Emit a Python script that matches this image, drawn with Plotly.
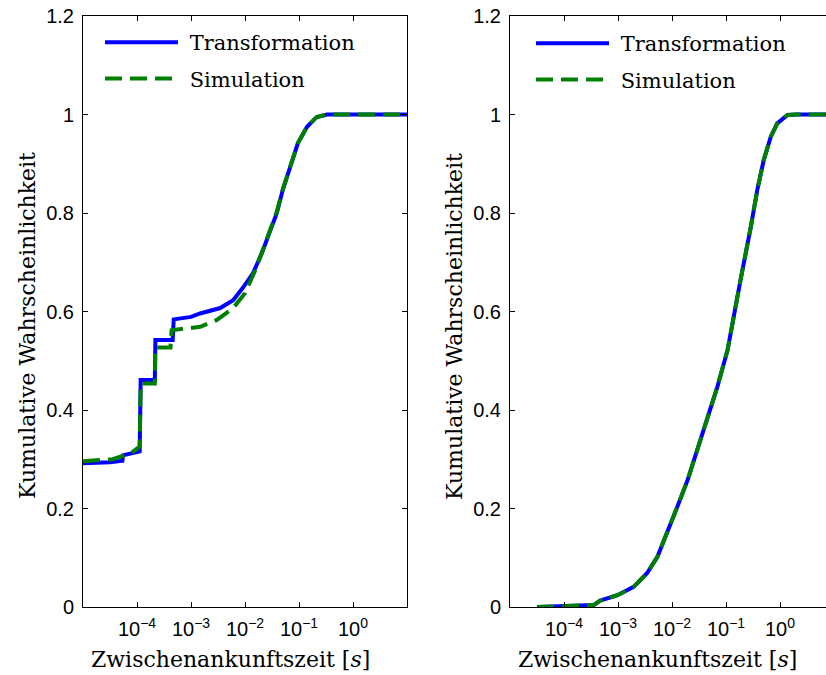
import plotly.graph_objects as go

W, H = 826, 675

# ---- data (x in seconds, y = cumulative probability) ----
left_trans_x = [1.0e-5, 3.16e-5, 5.37e-5, 5.50e-5, 1.12e-4, 1.17e-4, 2.14e-4, 2.19e-4,
                4.57e-4, 4.79e-4, 1.0e-3, 1.48e-3, 3.47e-3, 6.03e-3, 9.12e-3, 1.41e-2,
                2.04e-2, 2.88e-2, 3.89e-2, 5.01e-2, 6.76e-2, 9.55e-2, 0.141, 0.214, 0.331, 10.0]
left_trans_y = [0.292, 0.294, 0.297, 0.308, 0.316, 0.461, 0.461, 0.542,
                0.542, 0.584, 0.589, 0.596, 0.607, 0.623, 0.648, 0.678,
                0.718, 0.759, 0.800, 0.847, 0.894, 0.942, 0.975, 0.995, 1.0, 1.0]

left_sim_x = [1.0e-5, 3.55e-5, 7.94e-5, 1.12e-4, 1.17e-4, 2.14e-4, 2.19e-4, 4.17e-4,
              4.37e-4, 1.48e-3, 3.02e-3, 6.03e-3, 1.0e-2, 1.55e-2, 2.14e-2, 2.88e-2,
              3.89e-2, 5.01e-2, 6.76e-2, 9.55e-2, 0.141, 0.214, 0.331, 10.0]
left_sim_y = [0.296, 0.300, 0.313, 0.326, 0.454, 0.454, 0.527, 0.527,
              0.562, 0.569, 0.583, 0.607, 0.637, 0.684, 0.725, 0.762,
              0.803, 0.848, 0.894, 0.942, 0.975, 0.995, 1.0, 1.0]

right_trans_x = [3.16e-5, 1.0e-4, 3.55e-4, 4.68e-4, 9.77e-4, 1.95e-3, 3.47e-3, 5.37e-3,
                 8.13e-3, 1.26e-2, 1.95e-2, 2.95e-2, 4.57e-2, 6.92e-2, 0.107, 0.138,
                 0.186, 0.288, 0.380, 0.501, 0.676, 0.891, 1.38, 2.0, 10.0]
right_trans_y = [0.000, 0.001, 0.004, 0.013, 0.024, 0.041, 0.069, 0.102,
                 0.150, 0.204, 0.258, 0.319, 0.380, 0.447, 0.522, 0.583,
                 0.664, 0.772, 0.847, 0.908, 0.955, 0.982, 0.999, 1.0, 1.0]

right_sim_x = [3.16e-5, 1.0e-4, 3.55e-4, 4.68e-4, 9.77e-4, 1.95e-3, 3.47e-3, 5.37e-3,
               8.13e-3, 1.26e-2, 1.95e-2, 2.95e-2, 4.57e-2, 6.92e-2, 0.107, 0.138,
               0.186, 0.288, 0.380, 0.501, 0.676, 0.891, 1.38, 2.0, 10.0]
right_sim_y = [0.000, 0.001, 0.004, 0.013, 0.024, 0.041, 0.069, 0.102,
               0.150, 0.204, 0.258, 0.319, 0.380, 0.447, 0.522, 0.583,
               0.664, 0.772, 0.847, 0.908, 0.955, 0.982, 0.999, 1.0, 1.0]

x_tickvals = [1e-4, 1e-3, 1e-2, 1e-1, 1e0]
x_ticktext = ["10<sup>\u22124</sup>", "10<sup>\u22123</sup>", "10<sup>\u22122</sup>",
              "10<sup>\u22121</sup>", "10<sup>0</sup>"]
y_tickvals = [0, 0.2, 0.4, 0.6, 0.8, 1.0, 1.2]
y_ticktext = ["0", "0.2", "0.4", "0.6", "0.8", "1", "1.2"]

series_names = ["Transformation", "Simulation"]
xlabel = "Zwischenankunftszeit [<i>s</i>]"
ylabel = "Kumulative Wahrscheinlichkeit"

BLUE = "#0000ff"
GREEN = "#008000"
SERIF = "DejaVu Serif"
SANS = "Liberation Sans"
NBSP = "\u00a0"

fig = go.Figure()
fig.add_trace(go.Scatter(x=left_trans_x, y=left_trans_y, mode="lines", name=NBSP + series_names[0],
                         line=dict(color=BLUE, width=4), xaxis="x", yaxis="y",
                         legend="legend", legendgroup="a"))
fig.add_trace(go.Scatter(x=left_sim_x, y=left_sim_y, mode="lines", name=NBSP + series_names[1],
                         line=dict(color=GREEN, width=4, dash="17px,8px"), xaxis="x", yaxis="y",
                         legend="legend", legendgroup="b"))
fig.add_trace(go.Scatter(x=right_trans_x, y=right_trans_y, mode="lines", name=NBSP + series_names[0],
                         line=dict(color=BLUE, width=4), xaxis="x2", yaxis="y2",
                         legend="legend2", legendgroup="c"))
fig.add_trace(go.Scatter(x=right_sim_x, y=right_sim_y, mode="lines", name=NBSP + series_names[1],
                         line=dict(color=GREEN, width=4, dash="17px,8px"), xaxis="x2", yaxis="y2",
                         legend="legend2", legendgroup="d"))

ydom = [68 / H, 659 / H]
common_x = dict(type="log", tickvals=x_tickvals, ticktext=x_ticktext, showgrid=False,
                zeroline=False, showline=True, linecolor="black", linewidth=1,
                ticks="inside", ticklen=5, tickcolor="black", mirror="ticks",
                tickfont=dict(family=SANS, size=20, color="black"), automargin=False,
                ticklabelstandoff=4)
common_y = dict(range=[0, 1.2], tickvals=y_tickvals, ticktext=y_ticktext, showgrid=False,
                zeroline=False, showline=True, linecolor="black", linewidth=1,
                ticks="inside", ticklen=5, tickcolor="black",
                tickfont=dict(family=SANS, size=20, color="black"), automargin=False,
                ticklabelstandoff=4)

fig.update_layout(
    width=W, height=H,
    margin=dict(l=0, r=0, t=0, b=0, pad=0),
    paper_bgcolor="white", plot_bgcolor="white",
    xaxis=dict(common_x, domain=[83 / W, 407 / W], range=[-5, 1], anchor="y"),
    yaxis=dict(common_y, domain=ydom, anchor="x", mirror="ticks"),
    xaxis2=dict(common_x, domain=[510 / W, 1.0], range=[-5, -5 + 316 / 54], anchor="y2"),
    yaxis2=dict(common_y, domain=ydom, anchor="x2", mirror=False),
    legend=dict(x=100 / W, y=1 - 22 / H, xanchor="left", yanchor="top",
                bgcolor="rgba(0,0,0,0)", borderwidth=0, itemwidth=73, tracegroupgap=6,
                font=dict(family=SERIF, size=21, color="black")),
    legend2=dict(x=531 / W, y=1 - 23 / H, xanchor="left", yanchor="top",
                 bgcolor="rgba(0,0,0,0)", borderwidth=0, itemwidth=73, tracegroupgap=6,
                 font=dict(family=SERIF, size=21, color="black")),
    showlegend=True,
)

ann_font = dict(family=SERIF, size=22, color="black")
annotations = [
    dict(text=xlabel, x=231 / W, y=1 - 659 / H, xref="paper", yref="paper",
         xanchor="center", yanchor="middle", showarrow=False, font=ann_font),
    dict(text=xlabel, x=657 / W, y=1 - 659 / H, xref="paper", yref="paper",
         xanchor="center", yanchor="middle", showarrow=False, font=ann_font),
    dict(text=ylabel, x=27 / W, y=1 - 326 / H, xref="paper", yref="paper", textangle=-90,
         xanchor="center", yanchor="middle", showarrow=False, font=ann_font),
    dict(text=ylabel, x=454 / W, y=1 - 326 / H, xref="paper", yref="paper", textangle=-90,
         xanchor="center", yanchor="middle", showarrow=False, font=ann_font),
]
fig.update_layout(annotations=annotations)

fig.write_html("out.html")
